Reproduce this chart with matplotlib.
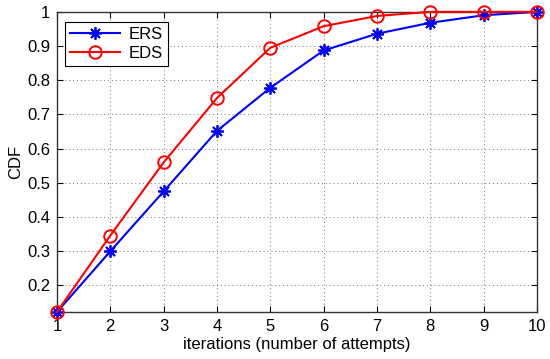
import matplotlib
matplotlib.use('Agg')
import matplotlib.pyplot as plt

# iterations and CDF values
iterations = [1, 2, 3, 4, 5, 6, 7, 8, 9, 10]
ers_cdf = [0.1225, 0.300, 0.475, 0.652, 0.778, 0.887, 0.936, 0.968, 0.990, 1.000]
eds_cdf = [0.1225, 0.346, 0.560, 0.748, 0.895, 0.958, 0.988, 1.000, 1.000, 1.000]
y_ticks = [0.2, 0.3, 0.4, 0.5, 0.6, 0.7, 0.8, 0.9, 1.0]
y_tick_labels = ['0.2', '0.3', '0.4', '0.5', '0.6', '0.7', '0.8', '0.9', '1']

plt.rcParams['font.family'] = ['Liberation Sans', 'DejaVu Sans']
plt.rcParams['font.size'] = 12

fig = plt.figure(figsize=(5.5, 3.59), dpi=100)
ax = fig.add_axes([0.1036, 0.131, 0.8727, 0.836])

# MATLAB-style asterisk marker (8 spokes)
ax.plot(iterations, ers_cdf, color='#0000ff', lw=1.5, marker=(8, 2, 0),
        markersize=9, markeredgewidth=1.3, label='ERS', clip_on=False, zorder=3)
ax.plot(iterations, eds_cdf, color='#ff0000', lw=1.5, marker='o',
        markersize=9, markerfacecolor='none', markeredgewidth=1.4, label='EDS',
        clip_on=False, zorder=3)

ax.set_xlim(1, 10)
ax.set_ylim(0.1225, 1)
ax.set_xticks(iterations)
ax.set_yticks(y_ticks)
ax.set_yticklabels(y_tick_labels)
ax.tick_params(direction='in', length=4, width=0.8, pad=5)
ax.tick_params(top=True, right=True, labeltop=False, labelright=False)
ax.grid(True, color='#777777', linestyle=(0, (1, 3)), linewidth=0.7)
for s in ax.spines.values():
    s.set_linewidth(1.0)
    s.set_color('#333333')

ax.set_xlabel('iterations (number of attempts)', labelpad=2)
ax.set_ylabel('CDF', labelpad=3)

leg = ax.legend(loc='upper left', fancybox=False, framealpha=1,
                edgecolor='black', handlelength=3.0, borderpad=0.3,
                labelspacing=0.25, handletextpad=0.5,
                bbox_to_anchor=(0.0, 0.995))
leg.get_frame().set_linewidth(0.8)

fig.savefig('out.png', dpi=100)
